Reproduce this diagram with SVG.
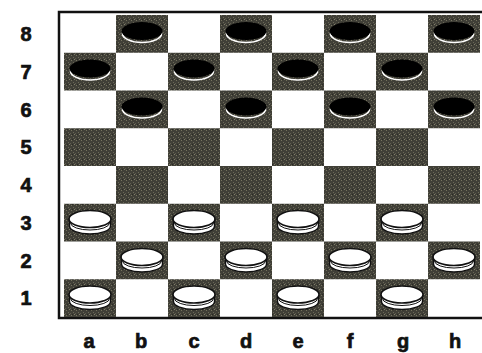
<svg xmlns="http://www.w3.org/2000/svg" width="482" height="353" viewBox="0 0 482 353">
<defs>
<pattern id="tex" width="5" height="5" patternUnits="userSpaceOnUse">
<rect width="5" height="5" fill="#403f37"/>
<rect x="1" y="0" width="1" height="1" fill="#75735f"/>
<rect x="3" y="2" width="1" height="1" fill="#6a6858"/>
<rect x="0" y="3" width="1" height="1" fill="#5f5d50"/>
<rect x="4" y="4" width="1" height="1" fill="#807e6a"/>
<rect x="2" y="4" width="1" height="1" fill="#2a2a25"/>
</pattern>
<g id="bp">
<ellipse cx="0" cy="2.5" rx="19.5" ry="9" fill="none" stroke="#fff" stroke-width="1.6"/>
<ellipse cx="0" cy="0" rx="20.5" ry="9" fill="#000"/>
</g>
<g id="wp">
<path d="M-20.5,0 V7 A20.5,8 0 0 0 20.5,7 V0 Z" fill="#fff" stroke="#111" stroke-width="1.4"/>
<path d="M-19.5,4 A19.5,7 0 0 0 19.5,4" fill="none" stroke="#111" stroke-width="1"/>
<ellipse cx="0" cy="0" rx="21" ry="8.5" fill="#fff" stroke="#111" stroke-width="1.6"/>
</g>
</defs>
<style>
.d{fill:url(#tex)}
.lbl{font-family:"Liberation Sans",Arial,sans-serif;font-weight:bold;font-size:20px;fill:#111;stroke:#111;stroke-width:0.7;text-anchor:middle}
</style>
<rect width="482" height="353" fill="#fff"/>
<rect x="59" y="12" width="440" height="306" fill="#fff" stroke="#111" stroke-width="2.5"/>
<g id="squares">
<rect class="d" x="116" y="15" width="52" height="37.75"/>
<rect class="d" x="220" y="15" width="52" height="37.75"/>
<rect class="d" x="324" y="15" width="52" height="37.75"/>
<rect class="d" x="428" y="15" width="52" height="37.75"/>
<rect class="d" x="64" y="52.75" width="52" height="37.75"/>
<rect class="d" x="168" y="52.75" width="52" height="37.75"/>
<rect class="d" x="272" y="52.75" width="52" height="37.75"/>
<rect class="d" x="376" y="52.75" width="52" height="37.75"/>
<rect class="d" x="116" y="90.5" width="52" height="37.75"/>
<rect class="d" x="220" y="90.5" width="52" height="37.75"/>
<rect class="d" x="324" y="90.5" width="52" height="37.75"/>
<rect class="d" x="428" y="90.5" width="52" height="37.75"/>
<rect class="d" x="64" y="128.25" width="52" height="37.75"/>
<rect class="d" x="168" y="128.25" width="52" height="37.75"/>
<rect class="d" x="272" y="128.25" width="52" height="37.75"/>
<rect class="d" x="376" y="128.25" width="52" height="37.75"/>
<rect class="d" x="116" y="166" width="52" height="37.75"/>
<rect class="d" x="220" y="166" width="52" height="37.75"/>
<rect class="d" x="324" y="166" width="52" height="37.75"/>
<rect class="d" x="428" y="166" width="52" height="37.75"/>
<rect class="d" x="64" y="203.75" width="52" height="37.75"/>
<rect class="d" x="168" y="203.75" width="52" height="37.75"/>
<rect class="d" x="272" y="203.75" width="52" height="37.75"/>
<rect class="d" x="376" y="203.75" width="52" height="37.75"/>
<rect class="d" x="116" y="241.5" width="52" height="37.75"/>
<rect class="d" x="220" y="241.5" width="52" height="37.75"/>
<rect class="d" x="324" y="241.5" width="52" height="37.75"/>
<rect class="d" x="428" y="241.5" width="52" height="37.75"/>
<rect class="d" x="64" y="279.25" width="52" height="37.75"/>
<rect class="d" x="168" y="279.25" width="52" height="37.75"/>
<rect class="d" x="272" y="279.25" width="52" height="37.75"/>
<rect class="d" x="376" y="279.25" width="52" height="37.75"/>
</g>
<g id="black-pieces">
<use href="#bp" x="142" y="31"/>
<use href="#bp" x="246" y="31"/>
<use href="#bp" x="350" y="31"/>
<use href="#bp" x="454" y="31"/>
<use href="#bp" x="90" y="68.5"/>
<use href="#bp" x="194" y="68.5"/>
<use href="#bp" x="298" y="68.5"/>
<use href="#bp" x="402" y="68.5"/>
<use href="#bp" x="142" y="106.5"/>
<use href="#bp" x="246" y="106.5"/>
<use href="#bp" x="350" y="106.5"/>
<use href="#bp" x="454" y="106.5"/>
</g>
<g id="white-pieces">
<use href="#wp" x="90" y="219"/>
<use href="#wp" x="194" y="219"/>
<use href="#wp" x="298" y="219"/>
<use href="#wp" x="402" y="219"/>
<use href="#wp" x="142" y="257"/>
<use href="#wp" x="246" y="257"/>
<use href="#wp" x="350" y="257"/>
<use href="#wp" x="454" y="257"/>
<use href="#wp" x="90" y="294.5"/>
<use href="#wp" x="194" y="294.5"/>
<use href="#wp" x="298" y="294.5"/>
<use href="#wp" x="402" y="294.5"/>
</g>
<g id="rank-labels">
<text class="lbl" x="26" y="41">8</text>
<text class="lbl" x="26" y="79">7</text>
<text class="lbl" x="26" y="117">6</text>
<text class="lbl" x="26" y="154">5</text>
<text class="lbl" x="26" y="192">4</text>
<text class="lbl" x="26" y="230">3</text>
<text class="lbl" x="26" y="268">2</text>
<text class="lbl" x="26" y="305">1</text>
</g>
<g id="file-labels">
<text class="lbl" x="89" y="348">a</text>
<text class="lbl" x="141" y="348">b</text>
<text class="lbl" x="194" y="348">c</text>
<text class="lbl" x="246" y="348">d</text>
<text class="lbl" x="298" y="348">e</text>
<text class="lbl" x="350" y="348">f</text>
<text class="lbl" x="403" y="348">g</text>
<text class="lbl" x="455" y="348">h</text>
</g>
</svg>
